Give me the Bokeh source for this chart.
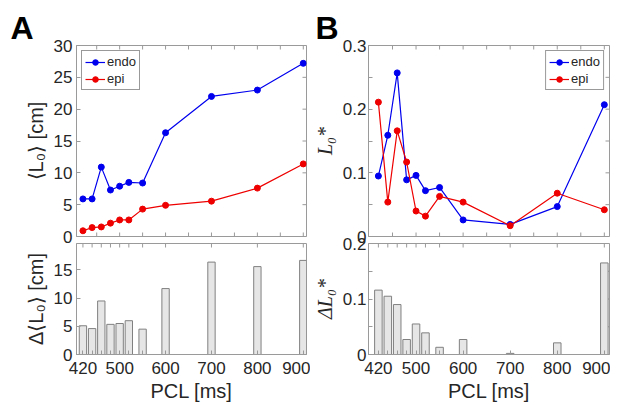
import math
from bokeh.plotting import figure
from bokeh.layouts import column, row
from bokeh.models import FixedTicker, LinearAxis, Range1d, Legend
from bokeh.embed import file_html
from bokeh.resources import INLINE

# ---------------- data ----------------
pcl = [420, 440, 460, 480, 500, 520, 550, 600, 700, 800, 900]
pcl_labels = [420, 500, 600, 700, 800, 900]
l0_endo = [5.9, 5.9, 10.9, 7.3, 7.9, 8.5, 8.4, 16.3, 22.0, 23.0, 27.2]
l0_epi = [0.9, 1.4, 1.5, 2.1, 2.6, 2.6, 4.3, 4.9, 5.55, 7.6, 11.4]
dl0 = [5.1, 4.6, 9.5, 5.35, 5.5, 6.0, 4.5, 11.7, 16.4, 15.6, 16.7]
ls_endo = [0.095, 0.159, 0.257, 0.089, 0.096, 0.072, 0.077, 0.026, 0.019, 0.047, 0.207]
ls_epi = [0.211, 0.054, 0.166, 0.117, 0.040, 0.032, 0.063, 0.054, 0.017, 0.068, 0.042]
dls = [0.116, 0.105, 0.090, 0.027, 0.055, 0.039, 0.013, 0.027, 0.002, 0.021, 0.165]

top_ticks = [450, 500, 550, 600, 650, 700, 750, 800, 850, 900]
yA1 = [0, 5, 10, 15, 20, 25, 30]
yA2 = [0, 5, 10, 15]
yB1 = [0, 0.05, 0.1, 0.15, 0.2, 0.25, 0.3]
yB1_lab = ["0", "", "0.1", "", "0.2", "", "0.3"]
yB2 = [0, 0.05, 0.1, 0.15, 0.2]
yB2_lab = ["0", "", "0.1", "", "0.2"]

xA = (406, 907)
xB = (399, 911)
yrA1 = (0, 30)
yrA2 = (0, 19.7)
yrB1 = (0, 0.3)
yrB2 = (0, 0.2)

AX = "#9a9a9a"
TXT = "#262626"
FONT = "Liberation Sans"
BLUE = "#0000ee"
RED = "#ee0000"
TICK_FS = "17px"


def fmt(v):
    return "%g" % v


def make_fig(xr, yr, fw, fh, mbl, mbr, mbt, mbb, title=None, title_offset=0):
    p = figure(frame_width=fw, frame_height=fh,
               x_range=Range1d(*xr), y_range=Range1d(*yr),
               output_backend="svg", toolbar_location=None,
               x_axis_location=None, y_axis_location=None,
               min_border_left=mbl, min_border_right=mbr,
               min_border_top=mbt, min_border_bottom=mbb,
               title=title)
    p.grid.visible = False
    p.outline_line_color = AX
    p.outline_line_width = 1
    p.background_fill_color = "white"
    p.border_fill_color = "white"
    if title:
        p.title.text_font = FONT
        p.title.text_font_size = "32px"
        p.title.text_font_style = "bold"
        p.title.text_color = "black"
        p.title.align = "left"
        p.title.offset = title_offset
        p.title.standoff = 0
    return p


def add_axis(p, side, ticks, labels, axis_label=None, label_font=FONT,
             label_style="normal", label_standoff=4, tick_standoff=4):
    ax = LinearAxis(ticker=FixedTicker(ticks=ticks))
    ax.major_tick_in = 4
    ax.major_tick_out = 0
    ax.minor_tick_line_color = None
    ax.axis_line_color = AX
    ax.major_tick_line_color = AX
    ax.major_label_overrides = {t: l for t, l in zip(ticks, labels)}
    ax.major_label_text_font = FONT
    ax.major_label_text_font_size = TICK_FS
    ax.major_label_text_color = TXT
    ax.major_label_standoff = tick_standoff
    if axis_label:
        ax.axis_label = axis_label
        ax.axis_label_text_font = label_font
        ax.axis_label_text_font_size = "20px"
        ax.axis_label_text_font_style = label_style
        ax.axis_label_text_color = TXT
        ax.axis_label_standoff = label_standoff
    p.add_layout(ax, side)
    return ax


def mirror_ticks_x(p, ticks, yr, both=True):
    # short inward tick marks on the frame edges (clipped to the frame)
    p.scatter(ticks, [yr[1]] * len(ticks), marker="dash", angle=math.pi / 2, size=8,
              line_color=AX, line_width=1)
    if both:
        p.scatter(ticks, [yr[0]] * len(ticks), marker="dash", angle=math.pi / 2, size=8,
                  line_color=AX, line_width=1)


def mirror_ticks_y(p, ticks, xr):
    p.scatter([xr[1]] * len(ticks), ticks, marker="dash", size=8, line_color=AX, line_width=1)


def add_legend(p, items, loc):
    lg = Legend(items=items, location=loc)
    lg.border_line_color = "#333333"
    lg.border_line_width = 1
    lg.background_fill_color = "white"
    lg.background_fill_alpha = 1
    lg.label_text_font = FONT
    lg.label_text_font_size = "13px"
    lg.label_text_color = TXT
    lg.glyph_width = 20
    lg.glyph_height = 14
    lg.label_height = 14
    lg.label_standoff = 2
    lg.padding = 3
    lg.spacing = 2
    lg.margin = 5
    p.add_layout(lg)


def pcl_axis(p):
    ax = add_axis(p, "below", pcl, [fmt(v) if v in pcl_labels else "" for v in pcl], tick_standoff=7)
    ax.axis_label = "PCL [ms]"
    ax.axis_label_text_font = FONT
    ax.axis_label_text_font_size = "20px"
    ax.axis_label_text_font_style = "normal"
    ax.axis_label_text_color = TXT
    ax.axis_label_standoff = 3


# ---------------- panel A top ----------------
pA1 = make_fig(xA, yrA1, 230, 191, 76, 4, 45, 12, title="A", title_offset=-66)
add_axis(pA1, "left", yA1, [fmt(v) for v in yA1], axis_label="⟨L₀⟩ [cm]")
mirror_ticks_x(pA1, top_ticks, yrA1)
mirror_ticks_y(pA1, yA1, xA)
la1 = pA1.line(pcl, l0_endo, line_color=BLUE, line_width=1.2)
sa1 = pA1.scatter(pcl, l0_endo, size=6, fill_color=BLUE, line_color=BLUE)
la2 = pA1.line(pcl, l0_epi, line_color=RED, line_width=1.2)
sa2 = pA1.scatter(pcl, l0_epi, size=6, fill_color=RED, line_color=RED)
add_legend(pA1, [("endo", [la1, sa1]), ("epi", [la2, sa2])], "top_left")

# ---------------- panel B top ----------------
pB1 = make_fig(xB, yrB1, 241, 191, 58, 1, 45, 12, title="B", title_offset=-53)
add_axis(pB1, "left", yB1, yB1_lab, axis_label="L₀*", label_font="Liberation Serif",
         label_style="italic", tick_standoff=2)
mirror_ticks_x(pB1, top_ticks, yrB1)
mirror_ticks_y(pB1, yB1, xB)
lb1 = pB1.line(pcl, ls_endo, line_color=BLUE, line_width=1.2)
sb1 = pB1.scatter(pcl, ls_endo, size=6, fill_color=BLUE, line_color=BLUE)
lb2 = pB1.line(pcl, ls_epi, line_color=RED, line_width=1.2)
sb2 = pB1.scatter(pcl, ls_epi, size=6, fill_color=RED, line_color=RED)
add_legend(pB1, [("endo", [lb1, sb1]), ("epi", [lb2, sb2])], "top_right")

# ---------------- panel A bottom ----------------
pA2 = make_fig(xA, yrA2, 230, 111, 76, 4, 12, 48)
add_axis(pA2, "left", yA2, [fmt(v) for v in yA2], axis_label="Δ⟨L₀⟩ [cm]")
pcl_axis(pA2)
mirror_ticks_x(pA2, pcl, yrA2, both=False)
mirror_ticks_y(pA2, yA2, xA)
pA2.vbar(x=pcl, top=dl0, width=16, bottom=0, fill_color="#e6e6e6", line_color="#808080", line_width=1)

# ---------------- panel B bottom ----------------
pB2 = make_fig(xB, yrB2, 241, 111, 58, 1, 12, 48)
add_axis(pB2, "left", yB2, yB2_lab, axis_label="ΔL₀*", label_font="Liberation Serif",
         label_style="italic", tick_standoff=2)
pcl_axis(pB2)
mirror_ticks_x(pB2, pcl, yrB2, both=False)
mirror_ticks_y(pB2, yB2, xB)
pB2.vbar(x=pcl, top=dls, width=16, bottom=0, fill_color="#e6e6e6", line_color="#808080", line_width=1)

# bottom row overlaps the top row slightly so edge tick labels are not clipped
for p in (pA2, pB2):
    p.border_fill_alpha = 0
    p.margin = (-17, 0, 0, 0)

layout = column(row(pA1, pB1), row(pA2, pB2))
open("out.html", "w").write(file_html(layout, INLINE))
